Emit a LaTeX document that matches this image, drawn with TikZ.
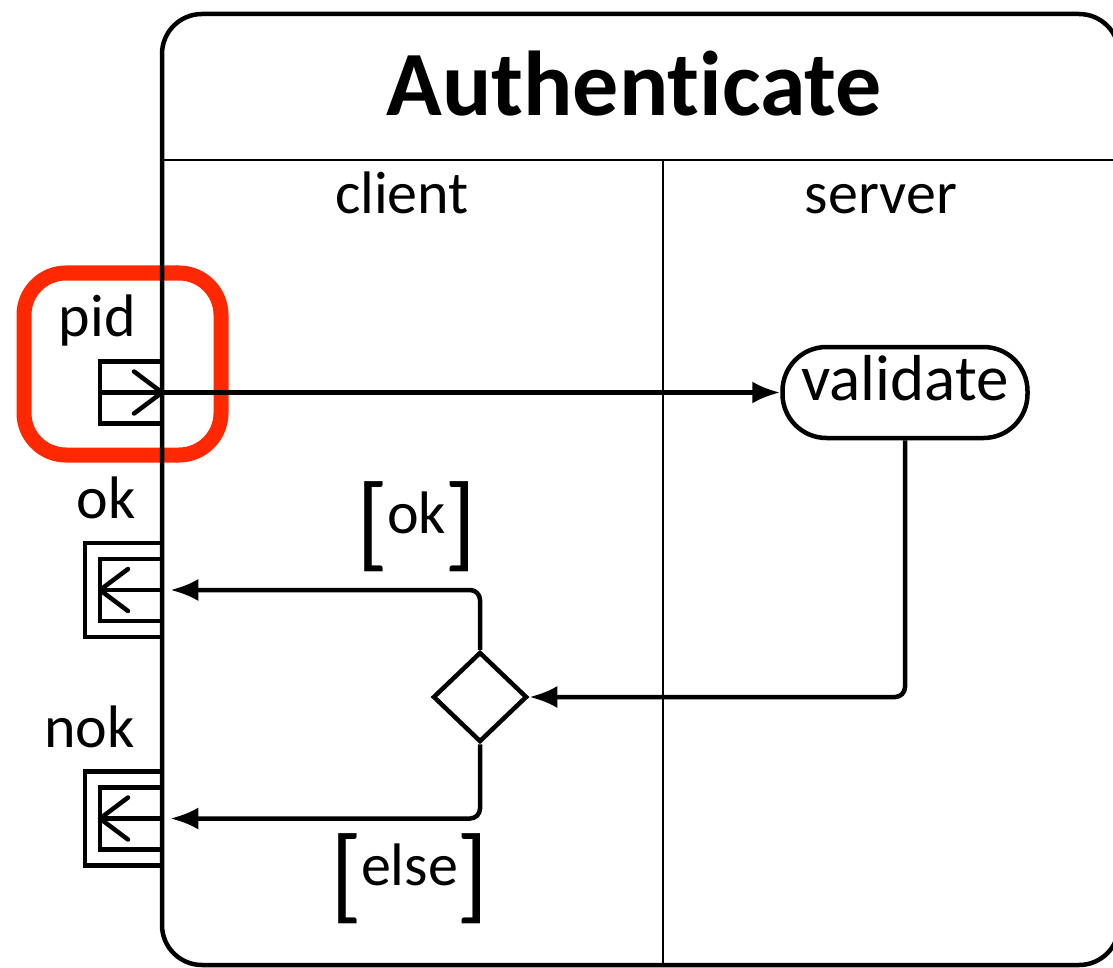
\documentclass[tikz,border=0pt]{standalone}
\usepackage{fontspec}
\setmainfont{Carlito}[Ligatures=NoCommon]
\usetikzlibrary{arrows.meta,shapes.geometric,positioning}
\definecolor{marcador}{RGB}{255,40,0}
\newcommand{\guarda}[1]{\raisebox{-24pt}{\fontsize{105}{105}\selectfont[}\kern-2pt#1\kern-1pt\raisebox{-24pt}{\fontsize{105}{105}\selectfont]}}

\begin{document}
\begin{tikzpicture}[
  x=1pt, y=-1pt,
  font=\fontsize{60}{72}\selectfont,
  inner sep=0pt,
  quadro/.style={draw, line width=4.5pt, rounded corners=40pt},
  raia/.style={line width=2.5pt},
  pino/.style={draw, line width=4.5pt, minimum size=62pt},
  pinofora/.style={draw, line width=4.5pt, minimum width=77pt, minimum height=94pt},
  setapino/.style={line width=4.5pt,
                   -{Straight Barb[length=28pt,width=42pt,line width=4.5pt,round]}},
  acao/.style={draw, line width=4.5pt, rounded corners=44pt, minimum width=245pt,
               minimum height=91pt, text height=45pt, text depth=30pt,
               font=\fontsize{65}{78}\selectfont},
  decisao/.style={draw, diamond, line width=4.5pt, minimum width=94pt, minimum height=90pt},
  fluxo/.style={line width=4.5pt, -{Latex[length=28pt,width=22pt]}, rounded corners=10pt},
  marca/.style={draw=marcador, line width=15pt, rounded corners=42pt},
]
\useasboundingbox (0,0) rectangle (1113,968);
\clip (0,0) rectangle (1113,968);

% ---- Destaque -------------------------------------------------------------
\node[marca, minimum width=197pt, minimum height=182pt] (foco) at (122.5,364) {};

% ---- Atividade e raias ----------------------------------------------------
\node[quadro, minimum width=957pt, minimum height=951pt] (atv) at (640.5,489.5) {};
\node[font=\fontsize{92}{110}\selectfont\bfseries, anchor=base] (titulo) at (634,116) {Authenticate};
\coordinate (topo) at (162,160);
\coordinate (divisa) at (663,160);
\draw[raia] (topo) -- (topo -| atv.east);
\draw[raia] (divisa) -- (divisa |- atv.south);
\node[anchor=base] (cliente) at (402,214) {client};
\node[anchor=base] (servidor) at (881,214) {server};

% ---- Pinos ----------------------------------------------------------------
\node[pino] (pid) at (131,392.5) {};
\node[anchor=base east] (pidtxt) at (136,336) {pid};
\node[pinofora] (okfora) at (123.5,590) {};
\node[pino] (ok) at (131,590) {};
\node[anchor=base east] (oktxt) at (136,518) {ok};
\node[pinofora] (nokfora) at (123.5,818.5) {};
\node[pino] (nok) at (131,818.5) {};
\node[anchor=base east] (noktxt) at (135,747) {nok};

% ---- Acao e decisao -------------------------------------------------------
\node[acao] (valida) at (905,392.5) {validate};
\node[decisao] (dec) at (480,697) {};
\node[anchor=base] (gok) at (417,533) {\guarda{ok}};
\node[anchor=base] (gelse) at (410,885) {\guarda{else}};

% ---- Arestas --------------------------------------------------------------
\draw[setapino] (pid.west) -- (pid.east);
\draw[setapino] (ok.east) -- (ok.west);
\draw[setapino] (nok.east) -- (nok.west);
\draw[fluxo] (pid.east) -- (valida.west);
\draw[fluxo] (valida.south) |- (dec.east);
\draw[fluxo, shorten >=6pt] (dec.north) |- (ok.east);
\draw[fluxo, shorten >=6pt] (dec.south) |- (nok.east);

\end{tikzpicture}
\end{document}
